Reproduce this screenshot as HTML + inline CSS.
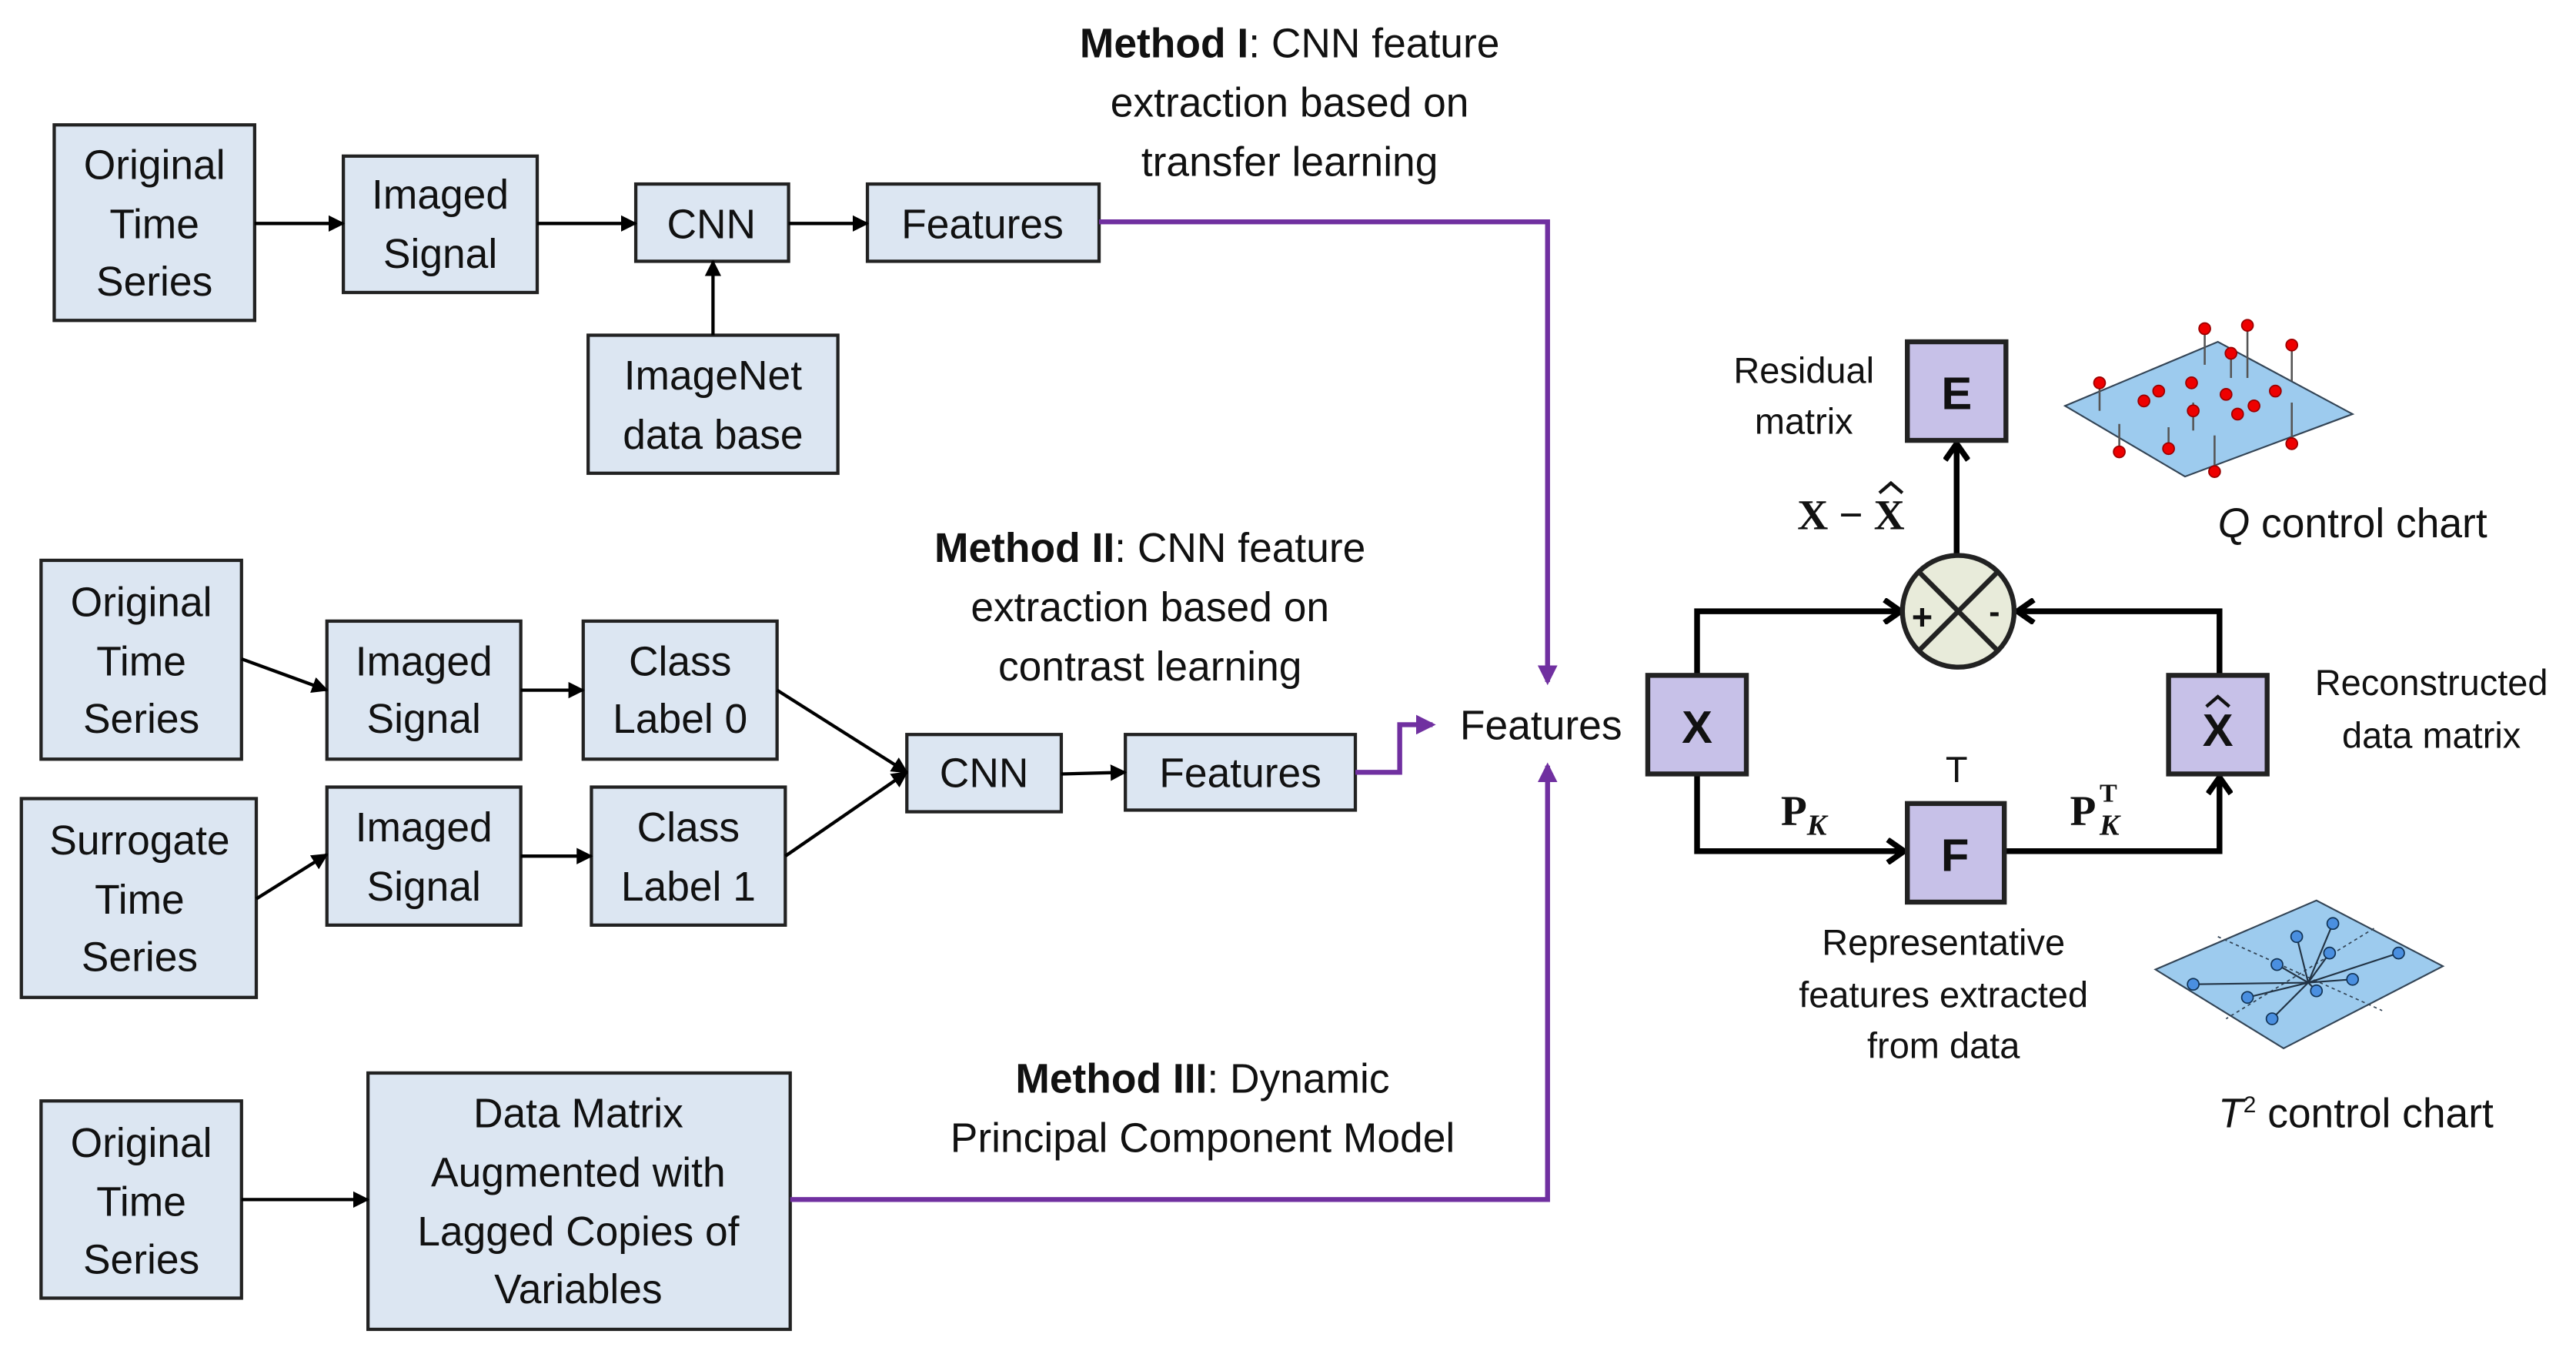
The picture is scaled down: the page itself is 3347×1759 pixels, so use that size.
<!DOCTYPE html>
<html><head><meta charset="utf-8"><style>
html,body{margin:0;padding:0;background:#fff;}
svg{display:block;}
text{font-family:"Liberation Sans",sans-serif;fill:#111;}
</style></head><body>
<svg width="3347" height="1759" viewBox="0 0 1568 824" preserveAspectRatio="none" xmlns="http://www.w3.org/2000/svg">
<defs>
<marker id="a" markerWidth="10" markerHeight="10" refX="9" refY="5" orient="auto" markerUnits="userSpaceOnUse"><path d="M0,0 L10,5 L0,10 z" fill="#000"/></marker>
<marker id="p" markerWidth="12" markerHeight="12" refX="10" refY="6" orient="auto" markerUnits="userSpaceOnUse"><path d="M0,0 L12,6 L0,12 z" fill="#7030A0"/></marker>
<marker id="o" markerWidth="16" markerHeight="16" refX="12" refY="8" orient="auto" markerUnits="userSpaceOnUse"><path d="M2,1 L12,8 L2,15" fill="none" stroke="#000" stroke-width="3.5"/></marker>
</defs>
<g fill="#DCE6F2" stroke="#222" stroke-width="2">
<rect x="33" y="76" width="122" height="119"/>
<rect x="209" y="95" width="118" height="83"/>
<rect x="387" y="112" width="93" height="47"/>
<rect x="528" y="112" width="141" height="47"/>
<rect x="358" y="204" width="152" height="84"/>
<rect x="25" y="341" width="122" height="121"/>
<rect x="199" y="378" width="118" height="84"/>
<rect x="355" y="378" width="118" height="84"/>
<rect x="13" y="486" width="143" height="121"/>
<rect x="199" y="479" width="118" height="84"/>
<rect x="360" y="479" width="118" height="84"/>
<rect x="552" y="447" width="94" height="47"/>
<rect x="685" y="447" width="140" height="46"/>
<rect x="25" y="670" width="122" height="120"/>
<rect x="224" y="653" width="257" height="156"/>
</g>
<g font-size="25" text-anchor="middle">
<text x="94" y="109">Original</text><text x="94" y="145">Time</text><text x="94" y="180">Series</text>
<text x="268" y="127">Imaged</text><text x="268" y="163">Signal</text>
<text x="433" y="145">CNN</text>
<text x="598" y="145">Features</text>
<text x="434" y="237">ImageNet</text><text x="434" y="273">data base</text>
<text x="86" y="375">Original</text><text x="86" y="411">Time</text><text x="86" y="446">Series</text>
<text x="258" y="411">Imaged</text><text x="258" y="446">Signal</text>
<text x="414" y="411">Class</text><text x="414" y="446">Label 0</text>
<text x="85" y="520">Surrogate</text><text x="85" y="556">Time</text><text x="85" y="591">Series</text>
<text x="258" y="512">Imaged</text><text x="258" y="548">Signal</text>
<text x="419" y="512">Class</text><text x="419" y="548">Label 1</text>
<text x="599" y="479">CNN</text>
<text x="755" y="479">Features</text>
<text x="86" y="704">Original</text><text x="86" y="740">Time</text><text x="86" y="775">Series</text>
<text x="352" y="686">Data Matrix</text><text x="352" y="722">Augmented with</text><text x="352" y="758">Lagged Copies of</text><text x="352" y="793">Variables</text>
<text x="785" y="35"><tspan font-weight="bold">Method I</tspan>: CNN feature</text>
<text x="785" y="71">extraction based on</text>
<text x="785" y="107">transfer learning</text>
<text x="700" y="342"><tspan font-weight="bold">Method II</tspan>: CNN feature</text>
<text x="700" y="378">extraction based on</text>
<text x="700" y="414">contrast learning</text>
<text x="732" y="665"><tspan font-weight="bold">Method III</tspan>: Dynamic</text>
<text x="732" y="701">Principal Component Model</text>
<text x="938" y="450">Features</text>
</g>
<g stroke="#000" stroke-width="2" fill="none" marker-end="url(#a)">
<line x1="155" y1="136" x2="209" y2="136"/>
<line x1="327" y1="136" x2="387" y2="136"/>
<line x1="480" y1="136" x2="528" y2="136"/>
<line x1="434" y1="204" x2="434" y2="159"/>
<line x1="147" y1="401" x2="199" y2="420"/>
<line x1="317" y1="420" x2="355" y2="420"/>
<line x1="156" y1="547" x2="199" y2="520"/>
<line x1="317" y1="521" x2="360" y2="521"/>
<line x1="473" y1="420" x2="552" y2="470"/>
<line x1="478" y1="521" x2="552" y2="470"/>
<line x1="646" y1="471" x2="685" y2="470"/>
<line x1="147" y1="730" x2="224" y2="730"/>
</g>
<g stroke="#7030A0" stroke-width="3" fill="none" marker-end="url(#p)">
<polyline points="669,135 942,135 942,415"/>
<polyline points="481,730 942,730 942,466"/>
<polyline points="825,470 852,470 852,441 872,441"/>
</g>
<g stroke="#000" stroke-width="3.5" fill="none">
<polyline points="1033,411 1033,372 1157,372" marker-end="url(#o)"/>
<polyline points="1351,411 1351,372 1228,372" marker-end="url(#o)"/>
<line x1="1191" y1="338" x2="1191" y2="270" marker-end="url(#o)"/>
<polyline points="1033,471 1033,518 1159,518" marker-end="url(#o)"/>
<polyline points="1220,518 1351,518 1351,473" marker-end="url(#o)"/>
</g>
<g fill="#C7C1E8" stroke="#222" stroke-width="3">
<rect x="1003" y="411" width="60" height="60"/>
<rect x="1161" y="208" width="60" height="60"/>
<rect x="1161" y="489" width="59" height="60"/>
<rect x="1320" y="411" width="60" height="60"/>
</g>
<circle cx="1192" cy="372" r="34" fill="#E8EBDA" stroke="#222" stroke-width="3"/>
<g stroke="#222" stroke-width="3"><line x1="1168" y1="348" x2="1216" y2="396"/><line x1="1216" y1="348" x2="1168" y2="396"/></g>
<g text-anchor="middle" font-weight="bold">
<text x="1033" y="452" font-size="28">X</text>
<text x="1191" y="249" font-size="28">E</text>
<text x="1190" y="530" font-size="28">F</text>
<text x="1350" y="454" font-size="28">X</text>
<path d="M1343,430 L1350,424 L1357,430" fill="none" stroke="#111" stroke-width="2"/>
<text x="1170" y="383" font-size="22">+</text>
<text x="1214" y="379" font-size="20">-</text>
<text x="1191" y="476" font-size="22" font-weight="normal">T</text>
</g>
<g font-weight="bold">
<text x="1094" y="322" font-size="26" style="font-family:'Liberation Serif',serif">X − X</text>
<path d="M1144,300 L1151,294 L1158,300" fill="none" stroke="#111" stroke-width="2"/>
<text x="1084" y="502" font-size="26" style="font-family:'Liberation Serif',serif">P<tspan font-size="18" font-style="italic" dy="6">K</tspan></text>
<text x="1260" y="502" font-size="26" style="font-family:'Liberation Serif',serif">P</text>
<text x="1278" y="508" font-size="18" font-style="italic" style="font-family:'Liberation Serif',serif">K</text>
<text x="1278" y="488" font-size="16" style="font-family:'Liberation Serif',serif">T</text>
</g>
<g font-size="22" text-anchor="middle">
<text x="1098" y="233">Residual</text><text x="1098" y="264">matrix</text>
<text x="1480" y="423">Reconstructed</text><text x="1480" y="455">data matrix</text>
<text x="1183" y="581">Representative</text><text x="1183" y="613">features extracted</text><text x="1183" y="644">from data</text>
<text x="1432" y="327" font-size="25"><tspan font-style="italic">Q</tspan> control chart</text>
<text x="1434" y="686" font-size="25"><tspan font-style="italic">T</tspan><tspan font-size="14" dy="-9">2</tspan><tspan dy="9"> control chart</tspan></text>
</g>
<polygon points="1257,247 1350,208 1432,252 1330,290" fill="#9DCBEE" stroke="#345" stroke-width="1"/>
<g stroke="#555" stroke-width="1.2">
<line x1="1278" y1="233" x2="1278" y2="250"/><line x1="1342" y1="200" x2="1342" y2="222"/><line x1="1368" y1="198" x2="1368" y2="230"/><line x1="1395" y1="210" x2="1395" y2="232"/><line x1="1335" y1="245" x2="1335" y2="262"/><line x1="1290" y1="275" x2="1290" y2="258"/><line x1="1320" y1="273" x2="1320" y2="260"/><line x1="1348" y1="287" x2="1348" y2="265"/><line x1="1395" y1="270" x2="1395" y2="245"/><line x1="1358" y1="230" x2="1358" y2="215"/>
</g>
<g fill="#E00" stroke="#900" stroke-width="0.8">
<circle cx="1278" cy="233" r="3.5"/><circle cx="1342" cy="200" r="3.5"/><circle cx="1368" cy="198" r="3.5"/><circle cx="1395" cy="210" r="3.5"/><circle cx="1358" cy="215" r="3.5"/><circle cx="1305" cy="244" r="3.5"/><circle cx="1314" cy="238" r="3.5"/><circle cx="1334" cy="233" r="3.5"/><circle cx="1335" cy="250" r="3.5"/><circle cx="1355" cy="240" r="3.5"/><circle cx="1372" cy="247" r="3.5"/><circle cx="1385" cy="238" r="3.5"/><circle cx="1362" cy="252" r="3.5"/><circle cx="1290" cy="275" r="3.5"/><circle cx="1320" cy="273" r="3.5"/><circle cx="1348" cy="287" r="3.5"/><circle cx="1395" cy="270" r="3.5"/>
</g>
<polygon points="1312,590 1410,548 1487,588 1390,638" fill="#9DCBEE" stroke="#345" stroke-width="1"/>
<g stroke="#345" stroke-width="0.8" stroke-dasharray="2,2"><line x1="1350" y1="570" x2="1450" y2="615"/><line x1="1445" y1="565" x2="1355" y2="620"/></g>
<g stroke="#234" stroke-width="1">
<line x1="1405" y1="598" x2="1420" y2="562"/><line x1="1405" y1="598" x2="1398" y2="570"/><line x1="1405" y1="598" x2="1418" y2="580"/><line x1="1405" y1="598" x2="1386" y2="587"/><line x1="1405" y1="598" x2="1460" y2="580"/><line x1="1405" y1="598" x2="1432" y2="596"/><line x1="1405" y1="598" x2="1335" y2="599"/><line x1="1405" y1="598" x2="1368" y2="607"/><line x1="1405" y1="598" x2="1410" y2="603"/><line x1="1405" y1="598" x2="1383" y2="620"/>
</g>
<g fill="#4A8FE0" stroke="#135" stroke-width="0.8">
<circle cx="1420" cy="562" r="3.5"/><circle cx="1398" cy="570" r="3.5"/><circle cx="1418" cy="580" r="3.5"/><circle cx="1386" cy="587" r="3.5"/><circle cx="1460" cy="580" r="3.5"/><circle cx="1432" cy="596" r="3.5"/><circle cx="1335" cy="599" r="3.5"/><circle cx="1368" cy="607" r="3.5"/><circle cx="1410" cy="603" r="3.5"/><circle cx="1383" cy="620" r="3.5"/>
</g>
</svg>
</body></html>
